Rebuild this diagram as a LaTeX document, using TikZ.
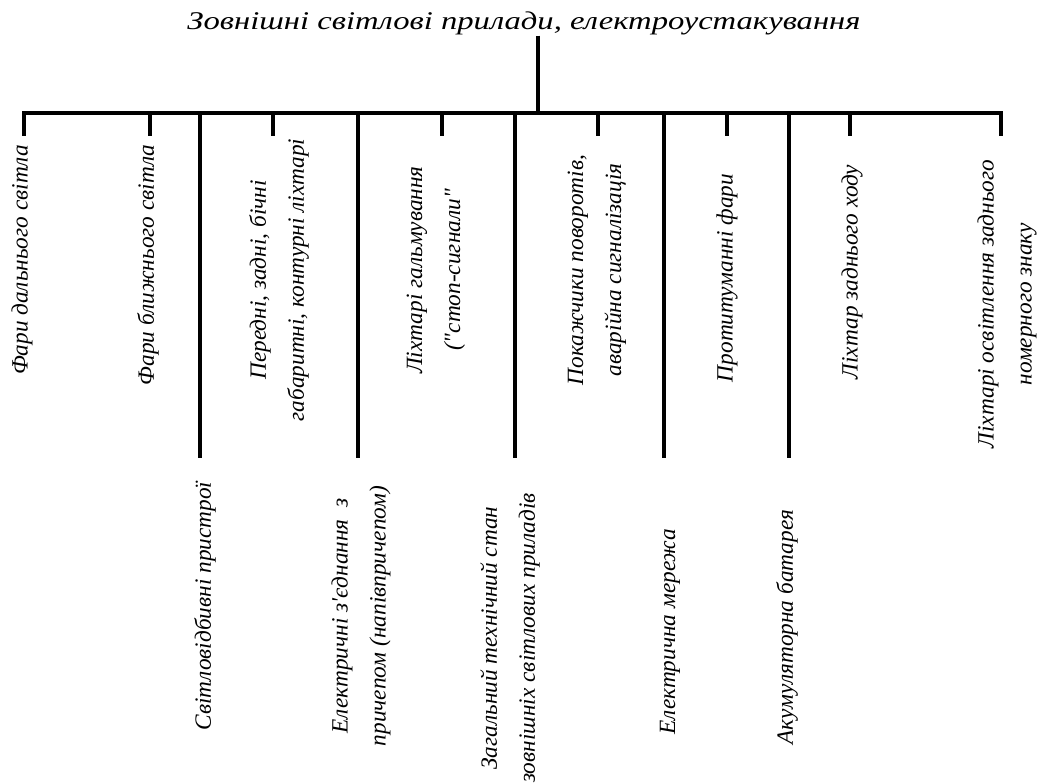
\documentclass[tikz,border=0pt]{standalone}
\usepackage{fontspec}
\newfontfamily\labfont{Liberation Serif}[Ligatures=TeXOff]
\newfontfamily\ttlfont{Liberation Serif}[Ligatures=TeXOff, FakeStretch=1.28]
\begin{document}
\begin{tikzpicture}[x=1pt,y=-1pt,
  lbl/.style={rotate=90, align=center, inner sep=0pt,
    font=\labfont\itshape\fontsize{23.3}{38}\selectfont},
  ttl/.style={inner sep=0pt, font=\ttlfont\itshape\fontsize{25.5}{30}\selectfont},
  conn/.style={line width=4.8pt, line cap=butt, line join=miter}]
\useasboundingbox (0,0) rectangle (1047,783);
% title
\node[ttl, anchor=base] (title) at (524,30) {Зовнішні світлові прилади, електроустакування};
% junctions on the bar
\coordinate (tj) at (538,113);
\foreach \n/\x in {b1/24,b2/150,b3/200,b4/273,b5/358,b6/442,b7/515,b8/598,b9/664,b10/727,b11/789,b12/850,b13/1001}
  \coordinate (\n) at (\x,113);
% short stub ends
\foreach \n/\x in {s1/24,s2/150,s4/273,s6/442,s8/598,s10/727,s12/850,s13/1001}
  \coordinate (\n) at (\x,136);
% long line ends
\foreach \n/\x in {l3/200,l5/358,l7/515,l9/664,l11/789}
  \coordinate (\n) at (\x,458);
% labels (upper)
\node[lbl] (f1) at (22,260) {Фари дальнього світла};
\node[lbl] (f2) at (148,265) {Фари ближнього світла};
\node[lbl] (pz) at (279,280) {Передні, задні, бічні\\габаритні, контурні ліхтарі};
\node[lbl] (lg) at (436,270) {Ліхтарі гальмування\\("стоп-сигнали"};
\node[lbl] (pk) at (597,270) {Покажчики поворотів,\\аварійна сигналізація};
\node[lbl] (pf) at (727,278) {Протитуманні фари};
\node[lbl] (lz) at (852,272) {Ліхтар заднього ходу};
\node[lbl] (lo) at (1007,304) {Ліхтарі освітлення заднього\\номерного знаку};
% labels (lower)
\node[lbl] (sv) at (205,606) {Світловідбивні пристрої};
\node[lbl] (ez) at (361,616) {Електричні з'єднання\ \ з\\причепом (напівпричепом)};
\node[lbl] (zt) at (510,638) {Загальний технічний стан\\зовнішніх світлових приладів};
\node[lbl] (em) at (670,632) {Електрична мережа};
\node[lbl] (ab) at (787,627) {Акумуляторна батарея};
% connectors
\draw[conn] (title.south -| tj) -- (tj);
\draw[conn] (s1) -- (b1) -- (b13) -- (s13);
\foreach \b/\e in {b2/s2,b4/s4,b6/s6,b8/s8,b10/s10,b12/s12,b3/l3,b5/l5,b7/l7,b9/l9,b11/l11}
  \draw[conn] (\b) -- (\e);
\end{tikzpicture}
\end{document}
